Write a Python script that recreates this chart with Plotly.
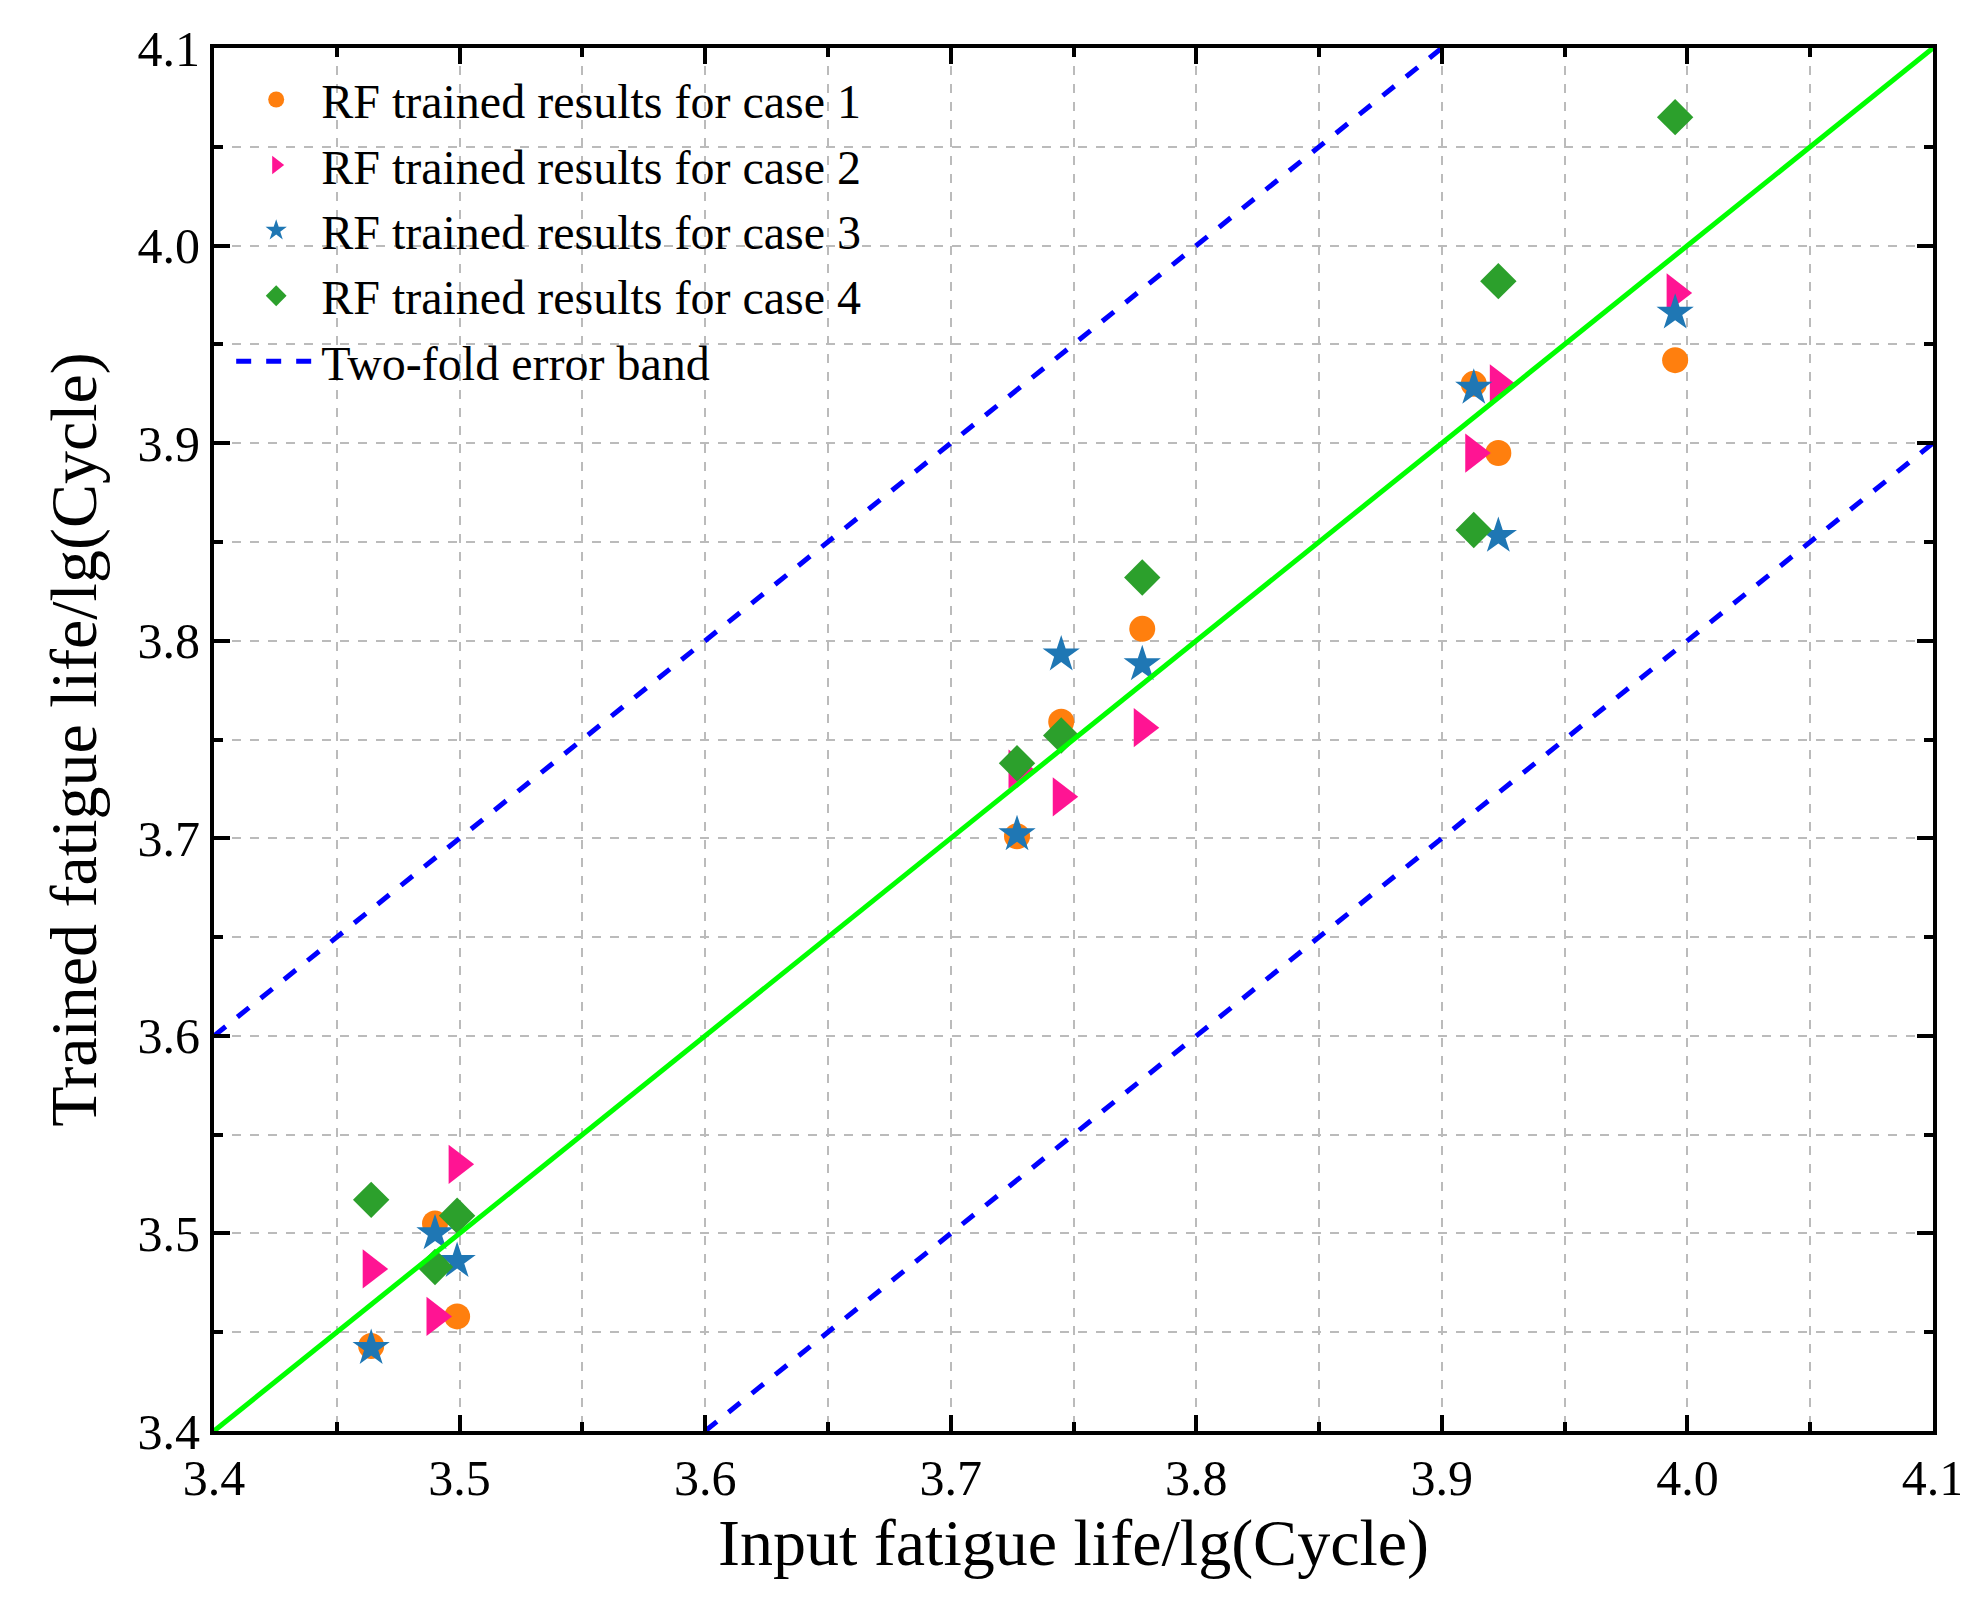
import plotly.graph_objects as go

x_in = [3.464, 3.490, 3.499, 3.727, 3.745, 3.778, 3.913, 3.923, 3.995]
case1 = [3.443, 3.505, 3.458, 3.701, 3.759, 3.806, 3.930, 3.895, 3.942]
case2 = [3.482, 3.458, 3.535, 3.735, 3.721, 3.756, 3.895, 3.930, 3.976]
case3 = [3.442, 3.500, 3.486, 3.702, 3.793, 3.788, 3.928, 3.853, 3.966]
case4 = [3.517, 3.483, 3.509, 3.738, 3.752, 3.832, 3.856, 3.982, 4.065]

ideal_x = [3.4, 4.1]
upper_x = [3.4, 3.9]
lower_x = [3.6, 4.1]
band = 0.2

fig = go.Figure()
fig.add_trace(go.Scatter(x=x_in, y=case1, mode='markers', name='RF trained results for case 1',
                         marker=dict(symbol='circle', size=26, color='#ff7f0e')))
fig.add_trace(go.Scatter(x=x_in, y=case2, mode='markers', name='RF trained results for case 2',
                         marker=dict(symbol='triangle-right', size=34, color='#ff1493')))
fig.add_trace(go.Scatter(x=x_in, y=case3, mode='markers', name='RF trained results for case 3',
                         marker=dict(symbol='star', size=28, color='#1f77b4')))
fig.add_trace(go.Scatter(x=x_in, y=case4, mode='markers', name='RF trained results for case 4',
                         marker=dict(symbol='diamond', size=28, color='#2ca02c')))
fig.add_trace(go.Scatter(x=upper_x, y=[v + band for v in upper_x], mode='lines',
                         name='Two-fold error band', line=dict(color='#0000ff', width=5, dash='dash')))
fig.add_trace(go.Scatter(x=lower_x, y=[v - band for v in lower_x], mode='lines',
                         showlegend=False, line=dict(color='#0000ff', width=5, dash='dash')))
fig.add_trace(go.Scatter(x=ideal_x, y=ideal_x, mode='lines', showlegend=False,
                         line=dict(color='#00ff00', width=5)))

axis = dict(range=[3.4, 4.1], dtick=0.1, tickformat='.1f', showline=True, linecolor='black',
            linewidth=4, mirror='ticks', ticks='inside', ticklen=16, tickwidth=4, tickcolor='black',
            showgrid=True, gridcolor='#bbbbbb', griddash='dash', gridwidth=1.5, zeroline=False,
            tickfont=dict(size=50, color='black'),
            minor=dict(dtick=0.05, showgrid=True, gridcolor='#bbbbbb', griddash='dash',
                       ticks='inside', ticklen=9, tickcolor='black', tickwidth=4))

fig.update_layout(
    width=1968, height=1613,
    plot_bgcolor='white', paper_bgcolor='white',
    font=dict(family='Liberation Serif', color='black'),
    margin=dict(l=206, r=38, t=36, b=190),
    xaxis=dict(axis, title=dict(text='Input fatigue life/lg(Cycle)', font=dict(size=66), standoff=15)),
    yaxis=dict(axis, title=dict(text='Trained fatigue life/lg(Cycle)', font=dict(size=66), standoff=20)),
    legend=dict(x=0.01, y=0.99, xanchor='left', yanchor='top', bgcolor='rgba(0,0,0,0)',
                font=dict(size=48), itemwidth=80, tracegroupgap=0),
    showlegend=True,
)

fig.write_html("out.html")
